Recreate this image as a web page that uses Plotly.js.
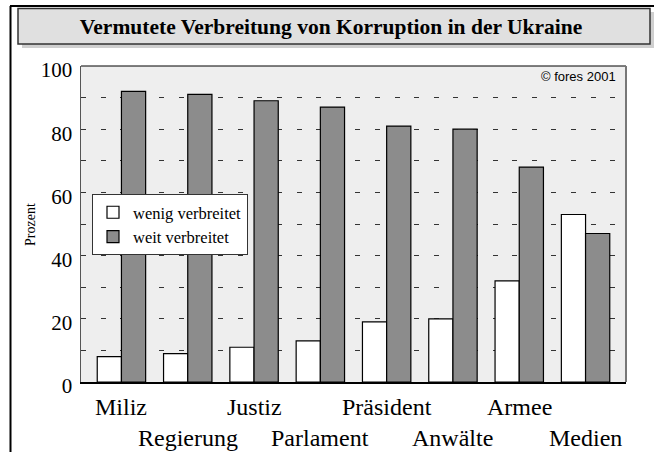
<!DOCTYPE html>
<html>
<head>
<meta charset="utf-8">
<script src="https://cdn.plot.ly/plotly-3.0.1.min.js"></script>
<style>html,body{margin:0;padding:0;background:#fff;}#chart{width:654px;height:452px;}</style>
</head>
<body>
<div id="chart"></div>
<script>
const categories = ["Miliz","Regierung","Justiz","Parlament","Präsident","Anwälte","Armee","Medien"];
const wenigVerbreitet = [8, 9, 11, 13, 19, 20, 32, 53];
const weitVerbreitet = [92, 91, 89, 87, 81, 80, 68, 47];
const seriesNames = ["wenig verbreitet", "weit verbreitet"];
const yTickVals = [0, 20, 40, 60, 80, 100];
const yTickText = ["0", "20", "40", "60", "80", "100"];
const titleText = "Vermutete Verbreitung von Korruption in der Ukraine";
const yTitle = "Prozent";
const copyright = "© fores 2001";

const W = 654, H = 452;
const L = 81, R = 626, T = 66, B = 382;
const px = x => (x - L) / (R - L);
const py = y => (B - y) / (B - T);
const serif = "Liberation Serif";

const traces = [
  {type: "bar", name: seriesNames[0], x: categories, y: wenigVerbreitet,
   marker: {color: "#ffffff", line: {color: "#000", width: 1.2}}, hoverinfo: "skip"},
  {type: "bar", name: seriesNames[1], x: categories, y: weitVerbreitet,
   marker: {color: "#8c8c8c", line: {color: "#000", width: 1.2}}, hoverinfo: "skip"}
];

const annotations = categories.map((c, i) => ({
  x: c, xref: "x", y: i % 2 === 0 ? py(407) : py(438), yref: "paper",
  text: c, showarrow: false, xanchor: "center", yanchor: "middle",
  font: {family: serif, size: 24, color: "#000"}
}));
annotations.push({
  x: px(618), xref: "paper", y: py(77), yref: "paper", text: copyright,
  showarrow: false, xanchor: "right", yanchor: "middle",
  font: {family: "Liberation Sans", size: 13, color: "#000"}
});
annotations.push({
  x: px(30), xref: "paper", y: py(225), yref: "paper", text: yTitle,
  showarrow: false, textangle: -90, xanchor: "center", yanchor: "middle",
  font: {family: serif, size: 14, color: "#000"}
});

const shapes = [
  {type: "line", xref: "paper", yref: "paper", x0: px(10.5), x1: px(10.5), y0: py(6), y1: py(452), line: {color: "#000", width: 2}, layer: "above"},
  {type: "line", xref: "paper", yref: "paper", x0: px(10), x1: px(654), y0: py(6), y1: py(6), line: {color: "#000", width: 2}, layer: "above"},
  {type: "rect", xref: "paper", yref: "paper", x0: px(22), x1: px(654), y0: py(12), y1: py(48), fillcolor: "#cfcfcf", line: {width: 0}, layer: "above"},
  {type: "rect", xref: "paper", yref: "paper", x0: px(18), x1: px(650), y0: py(8.5), y1: py(44), fillcolor: "#e0e0e0", line: {color: "#333", width: 1.5}, layer: "above"},
  {type: "line", xref: "paper", yref: "paper", x0: 0, x1: 1, y0: 1, y1: 1, line: {color: "#000", width: 1}, layer: "above"},
  {type: "line", xref: "paper", yref: "paper", x0: 1, x1: 1, y0: 0, y1: 1, line: {color: "#777", width: 2}, layer: "above"}
];

const layout = {
  width: W, height: H,
  margin: {l: L, r: W - R, t: T, b: H - B, pad: 0},
  paper_bgcolor: "#ffffff",
  plot_bgcolor: "#eeeeee",
  font: {family: serif, color: "#000"},
  title: {text: "<b>" + titleText + "</b>", x: 331 / W, xanchor: "center", xref: "container",
          y: 1 - 26.5 / H, yanchor: "middle", yref: "container",
          font: {family: serif, size: 21.5, color: "#000"}},
  barmode: "group", bargap: 0.27, bargroupgap: 0,
  showlegend: true,
  legend: {x: px(92), y: py(194), xanchor: "left", yanchor: "top",
           bgcolor: "#ffffff", bordercolor: "#333", borderwidth: 1,
           font: {family: serif, size: 16.5, color: "#000"},
           tracegroupgap: 0, itemwidth: 30},
  xaxis: {type: "category", range: [-0.61, 7.61], showticklabels: false, ticks: "",
          showgrid: false, zeroline: false, showline: true, linecolor: "#000", linewidth: 2,
          fixedrange: true},
  yaxis: {range: [0, 100], tickvals: yTickVals, ticktext: yTickText,
          ticks: "outside", ticklen: 3, tickcolor: "rgba(0,0,0,0)", ticklabelshift: 4,
          tickfont: {family: serif, size: 21, color: "#000"},
          showgrid: true, gridcolor: "#333", gridwidth: 1, griddash: "5px,14.6px",
          minor: {dtick: 10, tick0: 0, showgrid: true, gridcolor: "#333", gridwidth: 1, griddash: "5px,14.6px"},
          zeroline: false, showline: true, linecolor: "#555", linewidth: 1.5,
          fixedrange: true},
  annotations: annotations,
  shapes: shapes
};

Plotly.newPlot("chart", traces, layout, {displayModeBar: false, staticPlot: true});
</script>
</body>
</html>
